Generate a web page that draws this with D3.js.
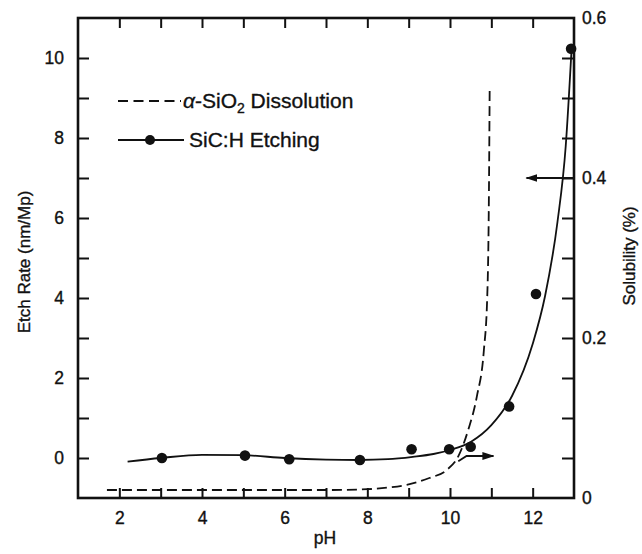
<!DOCTYPE html>
<html><head><meta charset="utf-8">
<script src="https://cdn.jsdelivr.net/npm/d3@7"></script>
<style>
html,body{margin:0;padding:0;background:#fff;}
text{font-family:"Liberation Sans",Arial,Helvetica,sans-serif;fill:#111;stroke:#111;stroke-width:0.35px;}
</style></head>
<body><svg id="c" width="642" height="554"></svg>
<script>
// ---- data ----
const etchPH   = [3.03, 5.04, 6.11, 7.82, 9.07, 9.98, 10.5, 11.43, 12.08, 12.93];
const etchRate = [0.0, 0.06, -0.03, -0.05, 0.22, 0.22, 0.28, 1.29, 4.1, 10.23];
const fitPH    = [2.2, 3, 4, 5, 6, 7, 7.8, 8.5, 9.1, 9.6, 10, 10.5, 11, 11.5, 12, 12.3, 12.6, 12.8, 12.94];
const fitRate  = [-0.09, 0.0, 0.08, 0.07, 0.0, -0.04, -0.05, -0.03, 0.03, 0.1, 0.2, 0.4, 0.82, 1.55, 2.85, 4.05, 5.9, 7.8, 10.2];
const solPH    = [1.7, 3, 5, 7, 8, 8.5, 9.0, 9.5, 9.92, 10.2, 10.44, 10.65, 10.82, 10.9, 10.94, 10.96];
const solVal   = [0.010, 0.010, 0.010, 0.010, 0.011, 0.013, 0.017, 0.025, 0.035, 0.052, 0.085, 0.127, 0.185, 0.25, 0.37, 0.5125];
const xTickLabels = [2, 4, 6, 8, 10, 12];
const yLeftLabels = [0, 2, 4, 6, 8, 10];
const yRightLabels = [0, 0.2, 0.4, 0.6];
const legendLabels = ["Dissolution", "SiC:H Etching"];

const svg = d3.select("#c");
const x = d3.scaleLinear().domain([1, 13]).range([78, 574]);
const yL = d3.scaleLinear().domain([-1, 11]).range([498, 18]);
const yR = d3.scaleLinear().domain([0, 0.6]).range([498, 18]);

const ink = "#111";
// frame
svg.append("rect").attr("x", x(1)).attr("y", yL(11)).attr("width", x(13)-x(1)).attr("height", yL(-1)-yL(11))
  .attr("fill","none").attr("stroke",ink).attr("stroke-width",2.6);

// axes
const fmtR = d => d === 0 ? "0" : d3.format(".1f")(d);
const axB = d3.axisBottom(x).tickValues(d3.range(2, 13, 1)).tickSize(-10).tickFormat(d => xTickLabels.includes(d) ? d : "");
const axT = d3.axisTop(x).tickValues(d3.range(2, 13, 1)).tickSize(-10).tickFormat("");
const axL = d3.axisLeft(yL).tickValues(d3.range(0, 11, 1)).tickSize(-11).tickFormat(d => yLeftLabels.includes(d) ? d : "");
const axR = d3.axisRight(yR).tickValues(d3.range(0.05, 0.6, 0.05)).tickSize(-12).tickFormat("");

function styleAxis(g){
  g.select(".domain").remove();
  g.selectAll(".tick line").attr("stroke", ink).attr("stroke-width", 2);
  g.selectAll("text").attr("font-size", 17.5).attr("fill", ink);
}
svg.append("g").attr("transform",`translate(0,${yL(-1)})`).call(axB).call(styleAxis)
  .selectAll("text").attr("dy", "1.3em");
svg.append("g").attr("transform",`translate(0,${yL(11)})`).call(axT).call(styleAxis);
svg.append("g").attr("transform",`translate(${x(1)},0)`).call(axL).call(styleAxis)
  .selectAll("text").attr("x", -14);
svg.append("g").attr("transform",`translate(${x(13)},0)`).call(axR).call(styleAxis);
// right labels
svg.append("g").selectAll("text").data(yRightLabels).join("text")
  .attr("x", x(13) + 8).attr("y", d => yR(d)).attr("dy", "0.35em")
  .attr("font-size", 17.5).text(fmtR);

// axis titles
svg.append("text").attr("x", 325).attr("y", 544).attr("text-anchor","middle").attr("font-size",17.5).text("pH");
svg.append("text").attr("transform","translate(30,262) rotate(-90)").attr("text-anchor","middle").attr("font-size",17).text("Etch Rate (nm/Mp)");
svg.append("text").attr("transform","translate(635,256) rotate(-90)").attr("text-anchor","middle").attr("font-size",17).text("Solubility (%)");

// dissolution dashed curve
const solLine = d3.line().x((d,i)=>x(solPH[i])).y((d,i)=>yR(solVal[i])).curve(d3.curveMonotoneX);
svg.append("path").attr("d", solLine(solPH)).attr("fill","none").attr("stroke",ink)
  .attr("stroke-width",1.8).attr("stroke-dasharray","10,5");

// fit curve
const fitLine = d3.line().x((d,i)=>x(fitPH[i])).y((d,i)=>yL(fitRate[i])).curve(d3.curveMonotoneX);
svg.append("path").attr("d", fitLine(fitPH)).attr("fill","none").attr("stroke",ink).attr("stroke-width",1.8);

// points
svg.append("g").selectAll("circle").data(etchPH).join("circle")
  .attr("cx",(d)=>x(d)).attr("cy",(d,i)=>yL(etchRate[i])).attr("r",5.3).attr("fill",ink);

// arrows
svg.append("defs").append("marker").attr("id","ah").attr("viewBox","0 0 12 8").attr("refX",11).attr("refY",4)
  .attr("markerWidth",12).attr("markerHeight",8).attr("markerUnits","userSpaceOnUse").attr("orient","auto")
  .append("path").attr("d","M0,0 L12,4 L0,8 Z").attr("fill",ink);
svg.append("path").attr("d", d3.line()([[x(10.2), yR(0.046)],[x(10.4), yR(0.0525)],[x(11.05), yR(0.0525)]]))
  .attr("fill","none").attr("stroke",ink).attr("stroke-width",1.8).attr("marker-end","url(#ah)");
svg.append("path").attr("d", d3.line()([[x(13), yR(0.4)],[x(11.85), yR(0.4)]]))
  .attr("fill","none").attr("stroke",ink).attr("stroke-width",1.8).attr("marker-end","url(#ah)");

// legend
const lg = svg.append("g");
lg.append("line").attr("x1",118).attr("x2",181).attr("y1",101).attr("y2",101).attr("stroke",ink)
  .attr("stroke-width",1.8).attr("stroke-dasharray","10,5.5");
const t1 = lg.append("text").attr("x",183).attr("y",108).attr("font-size",21);
t1.append("tspan").attr("font-style","italic").text("α");
t1.append("tspan").text("-SiO");
t1.append("tspan").attr("font-size",14).attr("dy",5).text("2");
t1.append("tspan").attr("dy",-5).text(" " + legendLabels[0]);
lg.append("line").attr("x1",118).attr("x2",184).attr("y1",140).attr("y2",140).attr("stroke",ink).attr("stroke-width",1.8);
lg.append("circle").attr("cx",150).attr("cy",140).attr("r",5).attr("fill",ink);
lg.append("text").attr("x",189).attr("y",147).attr("font-size",21).text(legendLabels[1]);
</script></body></html>
